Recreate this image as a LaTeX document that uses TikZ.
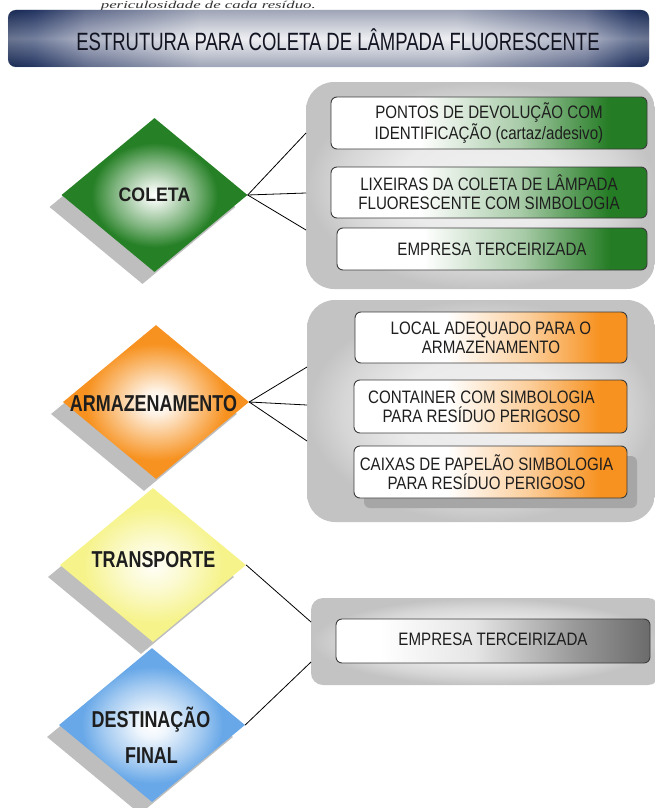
\documentclass[tikz,border=0pt]{standalone}
\usepackage{fontspec}
\setmainfont{Liberation Sans}
\newfontfamily\titlefont[FakeStretch=0.74]{Liberation Sans}
\newfontfamily\boxfont[FakeStretch=0.84]{Liberation Sans}
\newfontfamily\labfont[FakeStretch=0.78]{Liberation Sans}
\newfontfamily\colfont[FakeStretch=0.91]{Liberation Sans}
\newfontfamily\serifit{Liberation Serif}
\usetikzlibrary{shapes.geometric,calc}

\definecolor{G}{RGB}{36,124,36}
\definecolor{GD}{RGB}{38,128,38}
\definecolor{O}{RGB}{247,146,32}
\definecolor{Y}{RGB}{246,243,138}
\definecolor{B}{RGB}{104,168,232}
\definecolor{navy}{RGB}{25,42,84}
\definecolor{navyb}{RGB}{40,58,104}
\definecolor{navym}{RGB}{132,140,168}
\definecolor{navyl}{RGB}{230,231,236}
\definecolor{shadowgray}{RGB}{190,190,190}
\definecolor{boxedge}{RGB}{60,60,60}
\definecolor{textc}{RGB}{30,30,30}
\definecolor{titletext}{RGB}{18,20,34}
\definecolor{panelout}{RGB}{195,195,195}
\definecolor{panelmid}{RGB}{214,214,214}
\definecolor{panelin}{RGB}{240,240,240}

\pgfdeclarehorizontalshading{titlesh}{100bp}{color(0bp)=(navy); color(25bp)=(navy); color(27bp)=(navyb); color(31bp)=(navym); color(40bp)=(navyl); color(60bp)=(navyl); color(70bp)=(navym); color(73.5bp)=(navyb); color(75bp)=(navy); color(100bp)=(navy)}
\pgfdeclarehorizontalshading{gboxsh}{100bp}{color(0bp)=(white); color(39bp)=(white); color(55bp)=(G!40); color(69bp)=(G); color(100bp)=(G)}
\pgfdeclarehorizontalshading{oboxsh}{100bp}{color(0bp)=(white); color(42bp)=(white); color(57bp)=(O!45); color(70bp)=(O); color(100bp)=(O)}
\pgfdeclarehorizontalshading{grboxsh}{100bp}{color(0bp)=(white); color(32bp)=(white); color(47bp)=(black!10); color(63bp)=(black!40); color(75bp)=(black!58); color(100bp)=(black!58)}
\pgfdeclareradialshading{gdiash}{\pgfpoint{0bp}{0bp}}{color(0bp)=(white); color(2.5bp)=(white!90!GD); color(11bp)=(GD!60); color(17bp)=(GD); color(50bp)=(GD)}
\pgfdeclareradialshading{odiash}{\pgfpoint{0bp}{0bp}}{color(0bp)=(white); color(4bp)=(white!88!O); color(13bp)=(O!65); color(19bp)=(O); color(50bp)=(O)}
\pgfdeclareradialshading{ydiash}{\pgfpoint{0bp}{0bp}}{color(0bp)=(white!95!Y); color(8bp)=(white!60!Y); color(19bp)=(Y); color(50bp)=(Y)}
\pgfdeclareradialshading{bdiash}{\pgfpoint{0bp}{0bp}}{color(0bp)=(white); color(4bp)=(white!90!B); color(13bp)=(B!60); color(19bp)=(B); color(50bp)=(B)}
\pgfdeclareradialshading{panelsh}{\pgfpoint{0bp}{0bp}}{color(0bp)=(panelin); color(12bp)=(panelin!80!panelmid); color(20bp)=(panelmid); color(25bp)=(panelout); color(50bp)=(panelout)}

\begin{document}
\begin{tikzpicture}[x=1pt,y=-1pt,
  titlebar/.style={rectangle, rounded corners=8pt, shading=titlesh, minimum width=641pt, minimum height=57pt, inner sep=0pt},
  panel/.style={rectangle, shading=panelsh, inner sep=0pt},
  boxbase/.style={rectangle, draw=boxedge, line width=0.9pt, rounded corners=6pt, inner sep=0pt, align=center, text=textc, font=\boxfont\fontsize{18}{19}\selectfont},
  gbox/.style={boxbase, shading=gboxsh},
  obox/.style={boxbase, shading=oboxsh},
  grbox/.style={boxbase, shading=grboxsh},
  diam/.style={diamond, minimum width=186pt, minimum height=154pt, inner sep=0pt, draw=none},
  dshadow/.style={diam, fill=shadowgray},
  lab/.style={anchor=base, inner sep=0pt, text=textc, font=\labfont\bfseries\fontsize{23}{24}\selectfont},
  conn/.style={draw=black, line width=0.8pt}]
\path[use as bounding box] (0,0) rectangle (655,808);

% line of running text above the diagram
\node[anchor=base east, inner sep=0pt, text=black!80, font=\serifit\itshape\fontsize{10.5}{10.5}\selectfont] (cuttext) at (316,8.5) {\scalebox{1.6}[1]{periculosidade de cada resíduo.}};

% title bar
\node[titlebar] (title) at (328.5,38.5) {};
\shade[rounded corners=8pt, top color=navy, bottom color=navy, middle color=white, opacity=0.35] (title.north west) rectangle (title.south east);
\node[anchor=base, inner sep=0pt, text=titletext, font=\titlefont\fontsize{25}{26}\selectfont] (titletext) at (338,50.5) {ESTRUTURA PARA COLETA DE LÂMPADA FLUORESCENTE};

% connector end points on the panels
\coordinate (p1a) at (306,133);
\coordinate (p1b) at (306,193);
\coordinate (p1c) at (306,230);
\coordinate (p2a) at (307,367);
\coordinate (p2b) at (307,405);
\coordinate (p2c) at (307,441);
\coordinate (p3a) at (311,622);
\coordinate (p3b) at (311,662);

% panels
\node[panel, rounded corners=28pt, minimum width=349pt, minimum height=207pt] (p1) at (480.5,185.5) {};
\node[panel, rounded corners=28pt, minimum width=348pt, minimum height=222pt] (p2) at (481,411) {};
\node[panel, rounded corners=12pt, minimum width=349pt, minimum height=87pt] (p3) at (485.5,641.5) {};

% COLETA boxes
\node[gbox, minimum width=316pt, minimum height=52pt] (g1) at (489,123) {PONTOS DE DEVOLUÇÃO COM\\IDENTIFICAÇÃO (cartaz/adesivo)};
\node[gbox, minimum width=316pt, minimum height=51pt] (g2) at (489,192.5) {LIXEIRAS DA COLETA DE LÂMPADA\\FLUORESCENTE COM SIMBOLOGIA};
\node[gbox, minimum width=310pt, minimum height=42pt] (g3) at (492,249) {EMPRESA TERCEIRIZADA};

% ARMAZENAMENTO boxes
\node[obox, minimum width=272pt, minimum height=51pt] (o1) at (491,337.5) {LOCAL ADEQUADO PARA O\\ARMAZENAMENTO};
\node[obox, minimum width=273pt, minimum height=53pt] (o2) at (490.5,406.5) {\hspace*{-18pt}CONTAINER COM SIMBOLOGIA\\\hspace*{-18pt}PARA RESÍDUO PERIGOSO};
\node[rectangle, rounded corners=6pt, fill=black!35, minimum width=273pt, minimum height=52pt] (o3s) at (500.5,482) {};
\node[obox, minimum width=273pt, minimum height=52pt] (o3) at (490.5,472) {\hspace*{-8pt}CAIXAS DE PAPELÃO SIMBOLOGIA\\\hspace*{-8pt}PARA RESÍDUO PERIGOSO};

% TRANSPORTE / DESTINACAO box
\node[grbox, minimum width=314pt, minimum height=44pt] (gr) at (493,641) {\raisebox{4pt}{EMPRESA TERCEIRIZADA}};

% diamonds with shadows
\node[dshadow] (dgs) at (142.5,207) {};
\node[diam, shading=gdiash] (dg) at (154.5,195) {};
\node[dshadow] (dos) at (144,414) {};
\node[diam, shading=odiash] (do) at (156,402) {};
\node[dshadow] (dys) at (141,577) {};
\node[diam, shading=ydiash] (dy) at (153,565) {};
\node[dshadow] (dbs) at (140,737) {};
\node[diam, shading=bdiash] (db) at (152,725) {};

% labels
\node[lab, font=\colfont\bfseries\fontsize{19.5}{20}\selectfont] (lcoleta) at (154.5,201) {COLETA};
\node[lab] (larm) at (153.5,411) {ARMAZENAMENTO};
\node[lab] (ltrans) at (153.5,567) {TRANSPORTE};
\node[lab] (ldest) at (151,727) {DESTINAÇÃO};
\node[lab] (lfinal) at (151.5,763) {FINAL};

% connectors
\draw[conn] (dg.east) -- (p1a);
\draw[conn] (dg.east) -- (p1b);
\draw[conn] (dg.east) -- (p1c);
\draw[conn] (do.east) -- (p2a);
\draw[conn] (do.east) -- (p2b);
\draw[conn] (do.east) -- (p2c);
\draw[conn] (dy.east) -- (p3a);
\draw[conn] (db.east) -- (p3b);
\end{tikzpicture}
\end{document}
